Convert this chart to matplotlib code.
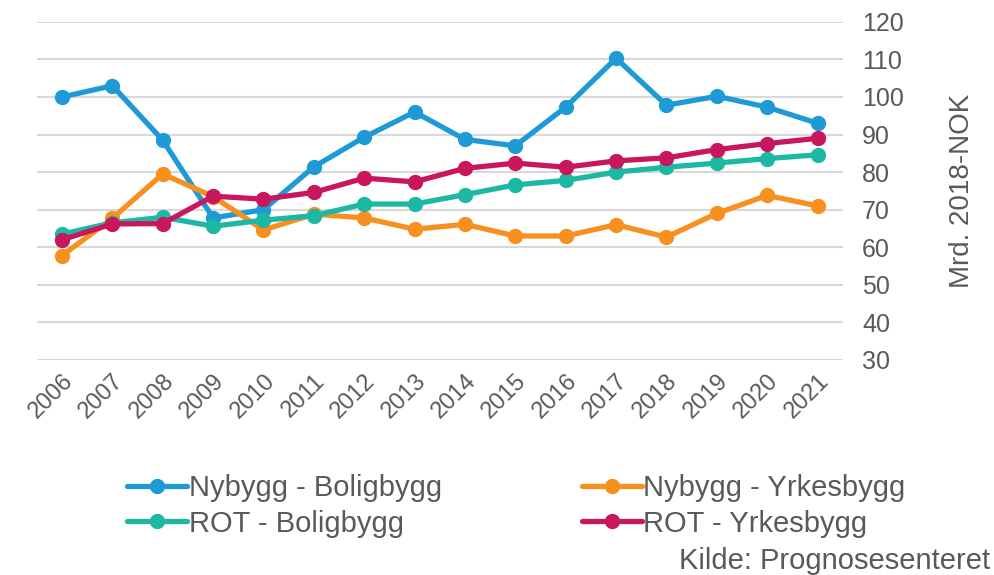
import numpy as np
import matplotlib.pyplot as plt

plt.rcParams['font.family'] = ['Liberation Sans', 'DejaVu Sans']

years = [str(y) for y in range(2006, 2022)]
nybygg_bolig = [100, 103, 88.5, 67.8, 70, 81.4, 89.3, 96, 88.7, 87, 97.3, 110.3, 97.8, 100.2, 97.3, 93]
nybygg_yrkes = [57.8, 67.7, 79.5, 73.5, 64.6, 68.8, 67.8, 64.8, 66.1, 63, 63, 66, 62.7, 69, 73.8, 71]
rot_bolig = [63.5, 66.5, 68, 65.6, 67.2, 68.4, 71.5, 71.5, 74, 76.6, 77.8, 80, 81.3, 82.4, 83.6, 84.6]
rot_yrkes = [62, 66.2, 66.3, 73.6, 72.8, 74.6, 78.4, 77.4, 81, 82.4, 81.3, 83, 83.8, 86, 87.6, 89]

series = [
    ("Nybygg - Boligbygg", nybygg_bolig, "#1E9BD7"),
    ("Nybygg - Yrkesbygg", nybygg_yrkes, "#F7901E"),
    ("ROT - Boligbygg", rot_bolig, "#1DB8A4"),
    ("ROT - Yrkesbygg", rot_yrkes, "#C8175D"),
]
txt = '#595959'

fig = plt.figure(figsize=(9.95, 5.75), dpi=100)
ax = fig.add_axes([0.037, 0.374, 0.81, 0.588])

x = np.arange(len(years))
handles = []
for name, vals, col in series:
    h, = ax.plot(x, vals, color=col, lw=3.8, marker='o', ms=10, label=name,
                 solid_capstyle='round')
    handles.append(h)

ax.set_xlim(-0.5, len(years) - 0.5)
ax.set_ylim(30, 120)
ax.set_yticks(range(30, 121, 10))
ax.yaxis.tick_right()
ax.yaxis.set_label_position('right')
ax.grid(axis='y', color='#d9d9d9', lw=1.5)
ax.set_axisbelow(True)
for s in ax.spines.values():
    s.set_visible(False)
ax.tick_params(length=0, labelcolor=txt)
ax.tick_params(axis='y', pad=14, labelsize=18)
ax.set_xticks(x)
ax.set_xticklabels(years, rotation=45, ha='right', rotation_mode='anchor', fontsize=17)
ax.tick_params(axis='x', pad=7)
ax.set_ylabel("Mrd. 2018-NOK", fontsize=20, color=txt, labelpad=32)

order = [0, 2, 1, 3]
fig.legend([handles[i] for i in order], [series[i][0] for i in order],
           ncol=2, frameon=False, loc='center', bbox_to_anchor=(0.519, 0.12),
           fontsize=21, handlelength=2.05, columnspacing=4.8, labelspacing=0.25,
           handletextpad=0.05, labelcolor=txt)

fig.text(0.995, 0.025, "Kilde: Prognosesenteret", ha='right', va='center',
         fontsize=21, color=txt)

fig.savefig("out.png", dpi=100)
